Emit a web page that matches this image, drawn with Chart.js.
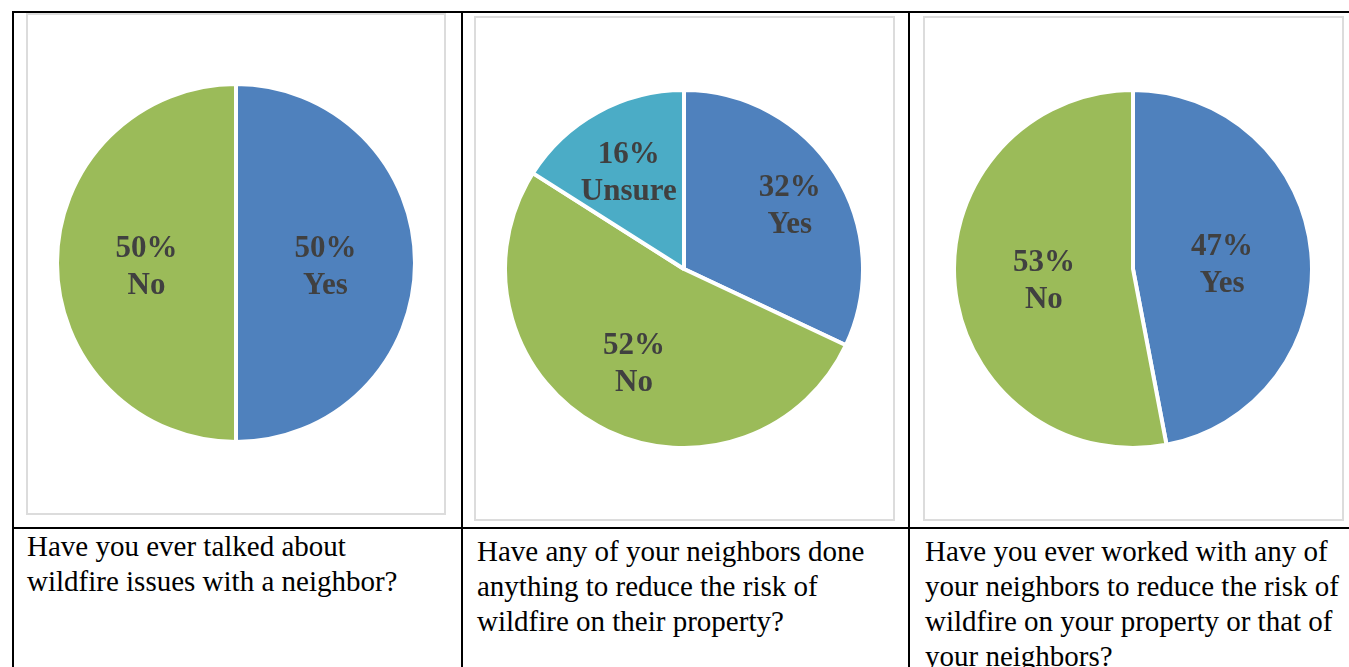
<!DOCTYPE html>
<html>
<head>
<meta charset="utf-8">
<title>Neighbor wildfire survey</title>
<script src="https://cdn.jsdelivr.net/npm/chart.js@4/dist/chart.umd.min.js"></script>
<style>
  html, body { margin:0; padding:0; background:#fff; width:1349px; height:667px; overflow:hidden; }
  .line { position:absolute; background:#000; }
  .frame { position:absolute; border:2px solid #dcdcdc; box-sizing:border-box; background:#fff; }
  .pie { position:absolute; }
  .question { position:absolute; font-family:"Liberation Serif","Times New Roman",serif; font-size:29px; line-height:35px; color:#000; white-space:nowrap; }
</style>
</head>
<body>
<!-- table grid -->
<div class="line" style="left:12px;top:11px;width:1337px;height:2px"></div>
<div class="line" style="left:12px;top:527px;width:1337px;height:2px"></div>
<div class="line" style="left:12px;top:11px;width:2px;height:656px"></div>
<div class="line" style="left:461px;top:11px;width:2px;height:656px"></div>
<div class="line" style="left:908px;top:11px;width:2px;height:656px"></div>

<!-- chart frames -->
<div class="frame" style="left:26px;top:13px;width:420px;height:502px"></div>
<div class="frame" style="left:474px;top:16px;width:421px;height:505px"></div>
<div class="frame" style="left:923px;top:16px;width:421px;height:505px"></div>

<canvas id="talkedChart" class="pie" width="362" height="362" style="left:55px;top:82px"></canvas>
<canvas id="neighborsChart" class="pie" width="362" height="362" style="left:503px;top:88px"></canvas>
<canvas id="workedChart" class="pie" width="362" height="362" style="left:952px;top:88px"></canvas>

<div id="q0" class="question" style="left:27px;top:529px"></div>
<div id="q1" class="question" style="left:477px;top:534px"></div>
<div id="q2" class="question" style="left:925px;top:534px"></div>

<script>
// survey answers, percent of respondents
const talkedLabels = ['Yes', 'No'];
const talkedValues = [50, 50];

const neighborsLabels = ['Yes', 'No', 'Unsure'];
const neighborsValues = [32, 52, 16];

const workedLabels = ['Yes', 'No'];
const workedValues = [47, 53];

const questions = [
  ['Have you ever talked about', 'wildfire issues with a neighbor?'],
  ['Have any of your neighbors done', 'anything to reduce the risk of', 'wildfire on their property?'],
  ['Have you ever worked with any of', 'your neighbors to reduce the risk of', 'wildfire on your property or that of', 'your neighbors?']
];

const sliceColors = ['#4F81BD', '#9BBB59', '#4BACC6'];

// draws "NN%" + category name inside each slice
const sliceLabels = {
  id: 'sliceLabels',
  afterDatasetsDraw(chart, args, opts) {
    const ctx = chart.ctx;
    const meta = chart.getDatasetMeta(0);
    const values = chart.data.datasets[0].data;
    meta.data.forEach((arc, i) => {
      const p = arc.getProps(['x', 'y', 'startAngle', 'endAngle', 'outerRadius'], true);
      const mid = (p.startAngle + p.endAngle) / 2;
      const r = p.outerRadius * opts.radius[i];
      const x = p.x + Math.cos(mid) * r;
      const y = p.y + Math.sin(mid) * r;
      ctx.save();
      ctx.font = 'bold 31px "Liberation Serif", "Times New Roman", serif';
      ctx.fillStyle = '#404040';
      ctx.textAlign = 'center';
      ctx.textBaseline = 'middle';
      ctx.fillText(values[i] + '%', x, y - 14);
      ctx.fillText(chart.data.labels[i], x, y + 23);
      ctx.restore();
    });
  }
};

function makePie(id, labels, values, labelOpts) {
  const ctx = document.getElementById(id).getContext('2d');
  return new Chart(ctx, {
    type: 'pie',
    data: {
      labels: labels,
      datasets: [{
        data: values,
        backgroundColor: sliceColors.slice(0, values.length),
        borderColor: '#ffffff',
        borderWidth: 4,
        hoverBorderWidth: 4,
        offset: 0,
        hoverOffset: 0
      }]
    },
    options: {
      responsive: false,
      animation: false,
      events: [],
      layout: { padding: 0 },
      plugins: {
        legend: { display: false },
        tooltip: { enabled: false },
        sliceLabels: labelOpts
      }
    },
    plugins: [sliceLabels]
  });
}

document.addEventListener('DOMContentLoaded', function () {
  makePie('talkedChart', talkedLabels, talkedValues, { radius: [0.5, 0.5] });
  makePie('neighborsChart', neighborsLabels, neighborsValues, { radius: [0.7, 0.58, 0.64] });
  makePie('workedChart', workedLabels, workedValues, { radius: [0.5, 0.5] });

  questions.forEach((lines, i) => {
    const el = document.getElementById('q' + i);
    lines.forEach((t, j) => {
      if (j > 0) el.appendChild(document.createElement('br'));
      el.appendChild(document.createTextNode(t));
    });
  });
});
</script>
</body>
</html>
